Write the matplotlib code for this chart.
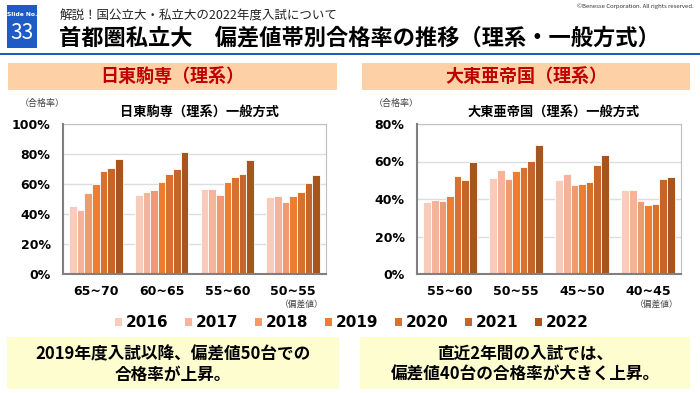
import matplotlib
matplotlib.use('Agg')
import matplotlib.pyplot as plt
from matplotlib.patches import Rectangle
import numpy as np

plt.rcParams['font.family'] = ['Noto Sans CJK JP', 'DejaVu Sans']

years = ['2016', '2017', '2018', '2019', '2020', '2021', '2022']
colors = ['#F8CBBA', '#F4B49A', '#F09A72', '#ED7D31', '#D9712E', '#C6652A', '#A5561F']

# 日東駒専（理系）
nittou_bands = ['65~70', '60~65', '55~60', '50~55']
nittou_rates = {
    '2016': [45.2, 52.8, 57.0, 51.2],
    '2017': [42.6, 54.8, 57.0, 52.3],
    '2018': [53.7, 56.3, 52.5, 47.9],
    '2019': [60.3, 61.2, 61.2, 51.7],
    '2020': [68.5, 67.0, 64.7, 55.0],
    '2021': [70.5, 70.3, 66.5, 61.0],
    '2022': [76.5, 81.6, 75.8, 66.0],
}

# 大東亜帝国（理系）
daitou_bands = ['55~60', '50~55', '45~50', '40~45']
daitou_rates = {
    '2016': [38.5, 51.4, 50.2, 44.7],
    '2017': [39.4, 55.5, 53.2, 44.7],
    '2018': [38.8, 50.7, 47.7, 39.2],
    '2019': [41.5, 55.0, 48.2, 36.7],
    '2020': [52.5, 57.3, 49.1, 37.6],
    '2021': [50.4, 60.5, 58.3, 50.9],
    '2022': [59.9, 69.0, 63.5, 51.6],
}

W, H = 700, 393
fig = plt.figure(figsize=(7, 3.93), dpi=100)


def fx(x):
    return x / W


def fy(y):
    return 1 - y / H


def box(x0, y0, x1, y1, fc, ec='none', lw=0):
    fig.patches.append(Rectangle((fx(x0), fy(y1)), fx(x1 - x0), (y1 - y0) / H,
                                 transform=fig.transFigure, facecolor=fc,
                                 edgecolor=ec, linewidth=lw))


# header
box(7, 5, 37, 48, '#1F5BC6')
fig.text(fx(22), fy(14), 'Slide No.', color='white', fontsize=4.3, fontweight='bold',
         ha='center', va='center', family='DejaVu Sans')
fig.text(fx(22), fy(33), '33', color='white', fontsize=15, ha='center', va='center')
fig.text(fx(60), fy(16), '解説！国公立大・私立大の2022年度入試について', fontsize=9,
         color='#222222', va='center')
fig.text(fx(59), fy(38), '首都圏私立大　偏差値帯別合格率の推移（理系・一般方式）',
         fontsize=16, fontweight='bold', va='center')
fig.text(fx(694), fy(6), '©Benesse Corporation. All rights reserved.', fontsize=4.3,
         ha='right', va='center', color='#333333')
box(0, 53, 700, 55, '#1F5BC6')

# section boxes
for x0, x1, label in [(8, 337, '日東駒専（理系）'), (362, 690, '大東亜帝国（理系）')]:
    box(x0, 63, x1, 90, '#FDD0A6')
    fig.text(fx((x0 + x1) / 2), fy(76.5), label, fontsize=13, fontweight='bold',
             color='#C00000', ha='center', va='center')


def draw_chart(left, right, bands, rates, ymax, title):
    ax = fig.add_axes([fx(left), fy(274), fx(right - left), 150 / H])
    ax.set_axisbelow(True)
    x = np.arange(len(bands))
    n = len(years)
    w = 0.81 / n
    for i, yr in enumerate(years):
        ax.bar(x - 0.405 + w * (i + 0.5), rates[yr], width=w, color=colors[i],
               edgecolor='white', linewidth=0.6, zorder=2)
    ax.set_xlim(-0.5, len(bands) - 0.5)
    ax.set_ylim(0, ymax)
    ticks = np.arange(0, ymax + 1, 20)
    ax.set_yticks(ticks)
    ax.set_yticklabels([f'{t}%' for t in ticks], fontsize=9, fontweight='bold',
                       family='DejaVu Sans')
    ax.set_xticks(x)
    ax.set_xticklabels(bands, fontsize=9, fontweight='bold', family='DejaVu Sans')
    ax.tick_params(length=0, pad=9)
    ax.tick_params(axis='x', pad=8)
    ax.yaxis.grid(True, color='#DDDDDD', linewidth=1)
    for s in ['top', 'right']:
        ax.spines[s].set_color('#BFBFBF')
        ax.spines[s].set_linewidth(0.8)
    for s in ['left', 'bottom']:
        ax.spines[s].set_color('#808080')
        ax.spines[s].set_linewidth(1.5)
        ax.spines[s].set_zorder(3)
    fig.text(fx(left - 43), fy(103), '（合格率）', fontsize=6.5, color='#444444',
             va='center')
    fig.text(fx((left + right) / 2 + 5), fy(112), title, fontsize=9.5,
             fontweight='bold', ha='center', va='center')
    fig.text(fx(right - 2), fy(304.5), '（偏差値）', fontsize=6.3, color='#444444',
             ha='right', va='center')


draw_chart(63, 326, nittou_bands, nittou_rates, 100, '日東駒専（理系）一般方式')
draw_chart(417, 681, daitou_bands, daitou_rates, 80, '大東亜帝国（理系）一般方式')

# legend
for i, yr in enumerate(years):
    lx = 115 + 70 * i
    box(lx, 318, lx + 7, 326, colors[i])
    fig.text(fx(lx + 11), fy(322.5), yr, fontsize=11, fontweight='bold',
             family='DejaVu Sans', va='center')

# comments
box(7, 337, 339, 389, '#FEFDD0')
box(360, 337, 690, 389, '#FEFDD0')
fig.text(fx(173), fy(354), '2019年度入試以降、偏差値50台での', fontsize=12,
         fontweight='bold', ha='center', va='center')
fig.text(fx(173), fy(375), '合格率が上昇。', fontsize=12, fontweight='bold',
         ha='center', va='center')
fig.text(fx(525), fy(354), '直近2年間の入試では、', fontsize=12, fontweight='bold',
         ha='center', va='center')
fig.text(fx(525), fy(375), '偏差値40台の合格率が大きく上昇。', fontsize=12,
         fontweight='bold', ha='center', va='center')

fig.savefig('out.png', dpi=100)
